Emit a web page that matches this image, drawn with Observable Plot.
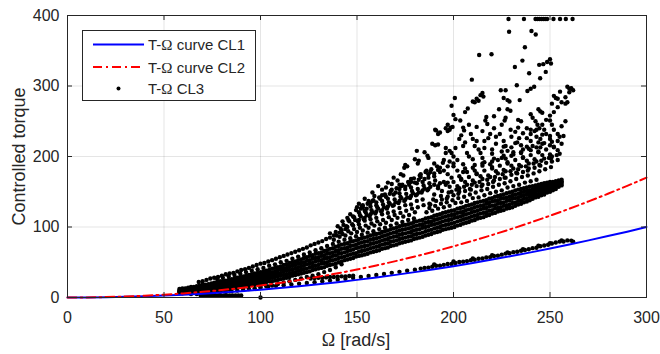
<!DOCTYPE html>
<html><head><meta charset="utf-8">
<script src="https://cdn.jsdelivr.net/npm/d3@7"></script>
<script src="https://cdn.jsdelivr.net/npm/@observablehq/plot@0.6"></script>
<style>
body{margin:0;background:#fff;}
#wrap{position:relative;width:660px;height:354px;font-family:"Liberation Sans",Arial,sans-serif;color:#262626;}
#legend{position:absolute;left:82px;top:30px;}
#xlabel{position:absolute;left:256px;width:200px;top:331px;text-align:center;font-size:18px;line-height:18px;color:#262626;}
.sym{font-family:"Liberation Serif","Times New Roman",serif;}
</style></head>
<body><div id="wrap"></div>
<script>
// ---- axis ticks / labels ----
const xTicks = [0, 50, 100, 150, 200, 250, 300];
const yTicks = [0, 100, 200, 300, 400];
const yLabel = ["Controlled torque"];
const legendNames = ["curve CL1", "curve CL2", "CL3"];

// ---- CL1 curve (blue) ----
const cl1Omega = [0,10,20,30,40,50,60,70,80,90,100,110,120,130,140,150,160,170,180,190,200,210,220,230,240,250,260,270,280,290,300];
const cl1Torque = [0,0.11,0.44,1,1.78,2.78,4,5.44,7.11,9,11.1,13.4,16,18.8,21.8,25,28.4,32.1,36,40.1,44.4,49,53.8,58.8,64,69.4,75.1,81,87.1,93.4,100];
// ---- CL2 curve (red dash-dot) ----
const cl2Omega = cl1Omega;
const cl2Torque = [0,0.13,0.58,1.35,2.47,3.95,5.79,8.0,10.6,13.6,16.9,20.7,24.8,29.4,34.3,39.7,45.4,51.6,58.2,65.1,72.6,80.4,88.6,97.3,106.4,115.9,125.9,136.3,147.1,158.3,170];

// ---- CL3 scatter: dense lower band (two staggered omega grids) ----
const gridA = [58,61,64,67,70,73,76,79,82,85,88,91,94,97,100,103,106,109,112,115,118,121,124,127,130,133,136,139,142,145,148,151,154,157,160,163,166,169,172,175,178,181,184,187,190,193,196,199,202,205,208,211,214,217,220,223,226,229,232,235,238,241,244,247,250,253,256];
const bandA1 = [6,7,7,8,8,9,10,11,12,13,14,15,17,18,20,22,23,25,27,29,32,34,36,39,41,43,46,48,51,54,56,59,61,64,66,69,71,74,77,79,81,84,86,89,92,94,97,99,102,105,107,110,113,116,119,122,124,127,130,133,136,140,143,146,150,154,159];
const bandA2 = [7,8,9,10,11,11,13,14,15,16,18,19,21,22,24,26,28,30,32,34,36,39,41,44,46,49,52,54,57,60,62,65,67,70,72,75,77,80,83,85,87,90,92,95,98,100,103,105,108,111,113,116,119,121,124,127,130,132,135,138,141,145,147,151,154,157,161];
const bandA3 = [9,10,11,12,13,14,15,17,18,20,21,23,24,26,28,30,32,34,37,39,41,44,47,49,52,55,57,60,63,66,68,71,73,76,78,81,83,86,89,91,93,96,99,101,104,106,109,111,114,117,119,122,125,127,130,133,135,138,141,144,146,149,152,154,157,160,163];
const bandA4 = [10,12,13,14,15,17,18,20,21,23,24,26,28,30,32,34,36,39,41,44,46,49,52,55,57,60,63,66,69,71,74,77,79,82,84,87,89,92,95,97,99,102,104,107,110,112,115,117,120,122,125,128,130,133,136,138,141,143,146,149,151,153,156,158,160,163,165];
const bandA5 = [12,13,15,16,18,19,21,23,24,26,28,30,32,34,36,38,41,43,46,49,51,54,57,60,63,66,69,72,75,77,80,83,85,88,90,93,95,98,101,103,105,108,110,113,116,118,121,123,126,128,131,134,136,138,141,144,146,149,152,154,156,158,160,162,164,165,167];
const gridB = [59.5,62.5,65.5,68.5,71.5,74.5,77.5,80.5,83.5,86.5,89.5,92.5,95.5,98.5,101.5,104.5,107.5,110.5,113.5,116.5,119.5,122.5,125.5,128.5,131.5,134.5,137.5,140.5,143.5,146.5,149.5,152.5,155.5,158.5,161.5,164.5,167.5,170.5,173.5,176.5,179.5,182.5,185.5,188.5,191.5,194.5,197.5,200.5,203.5,206.5,209.5,212.5,215.5,218.5,221.5,224.5,227.5,230.5,233.5,236.5,239.5,242.5,245.5,248.5,251.5,254.5];
const bandB1 = [6,7,8,8,9,9,10,11,12,14,15,16,18,19,21,23,24,26,28,31,33,35,37,40,42,45,47,50,53,55,58,60,62,65,67,70,73,75,78,80,83,85,88,90,93,96,98,100,103,106,109,112,114,117,120,123,126,128,132,135,138,142,145,149,152,157];
const bandB2 = [8,9,9,10,11,12,13,14,15,17,18,20,21,23,25,27,29,31,33,35,38,40,43,45,48,50,53,56,58,61,63,66,68,71,73,76,79,81,84,86,89,91,94,96,99,102,104,106,109,112,115,117,120,123,126,128,131,134,137,140,143,146,149,152,155,159];
const bandB3 = [10,11,12,13,14,15,16,17,19,20,22,24,25,27,29,31,33,35,38,40,43,45,48,51,53,56,59,62,64,67,70,72,74,77,79,82,85,87,90,92,95,97,100,103,105,108,110,113,115,118,121,123,126,129,131,134,137,140,142,145,148,150,153,156,159,162];
const bandB4 = [11,12,14,15,16,17,19,20,22,24,25,27,29,31,33,35,37,40,42,45,48,50,53,56,59,62,64,67,70,73,75,78,80,83,85,88,91,93,96,98,101,103,106,108,111,114,116,118,121,124,126,129,131,134,137,140,142,145,147,150,152,155,157,160,162,164];
const bandB5 = [13,14,15,17,18,20,22,23,25,27,29,31,33,35,37,39,42,44,47,50,53,56,59,62,64,67,70,73,76,79,81,84,86,89,91,94,97,99,102,104,107,109,112,114,117,120,122,124,127,130,132,135,137,140,143,145,148,150,153,155,157,159,161,163,164,166];

// ---- CL3 scatter: streaks and clusters read as [omega, torque] ----
const cl3NearCL1 = [[100,14],[104,15.5],[108,16.5],[112,17.5],[116,18.5],[120,19.5],[124,20.6],[128,21.7],[132,23],[136,24],[140,25.3],[144,26.5],[148,27.8],[152,29.2],[156,30.5],[160,32],[164,33.4],[168,35],[172,36.4],[176,38],[180,39.5],[183,41],[185,42],[187,42.4],[189,43.7],[191,45],[193,45],[195,46.3],[197,47.6],[199,47.5],[201,49],[203,50.3],[205,50.7],[207,51.6],[209,53],[211,53.5],[213,55],[215,55.4],[217,56.8],[219,57.3],[221,58.8],[223,59.3],[225,60.8],[227,62.3],[229,62.8],[231,64.3],[233,64.8],[235,66.4],[237,67.4],[239,68.5],[241,70],[243,70.6],[245,72.7],[247,73.8],[249,74.9],[251,76.5],[253,78],[255,79.3],[257,79.4],[259,81],[261,80.7],[190,47],[200,51],[210,55.5],[220,60],[228,64],[236,68.5],[244,73.5],[250,77],[256,81],[262,79]];
const cl3Floor = [[69,3],[70.5,3],[72,3],[73.5,3],[75,3],[76.5,3],[78,3],[79.5,3],[81,3],[82.5,3],[84,3],[85.5,3],[87,3],[88.5,3],[90,3],[100,0],[126,27],[128,27.5],[130,28],[132,28],[134,28.5],[136,29],[138,29],[140,29.5],[142,30],[144,30],[146,30.5],[148,31]];
const cl3BelowBand = [[64,5],[67,5],[70,6],[73,6],[76,7],[79,8],[82,8],[85,9],[88,10],[91,11],[94,12],[97,13],[100,15],[103,16],[106,17],[109,19],[112,21],[115,23],[118,25],[121,27],[124,29],[127,31],[130,33],[133,36],[136,39],[139,43],[142,47]];
const cl3TopStreak = [[68,22],[70,23],[72,25],[74,27],[76,28],[78,29],[80,31],[82,33],[84,34],[86,35],[88,37],[90,39],[92,40],[94,42],[96,44],[98,46],[100,48],[102,49],[104,51],[106,53],[108,55],[110,57],[112,59],[114,61],[116,63],[118,65],[120,67],[122,69],[124,71],[126,74],[128,76],[130,78],[132,80],[134,83],[136,85],[138,88],[141,92],[144,97]];
const cl3AboveBand = [[77.5,27],[80.5,28],[83.5,30],[86.5,32],[89.5,34],[92.5,36],[95.5,38],[98.5,40],[101.5,42],[104.5,45],[107.5,47],[110.5,50],[113.5,52],[116.5,55],[119.5,58],[122.5,61],[125.5,64],[128.5,67],[131.5,70],[134.5,73],[137.5,76],[140.5,79],[143.5,82],[146.5,84],[149.5,87],[152.5,89],[155.5,92],[158.5,94],[161.5,97],[164.5,99],[167.5,102],[170.5,105],[173.5,107],[176.5,110],[179.5,112]];
const cl3MidLeft = [[138,82],[141,86],[144,88],[147,91],[150,93],[153,95],[156,99],[159,102],[162,104],[165,106],[168,110],[171,113],[174,115],[177,117],[180,121],
 [136,91],[139,93],[142,95],[145,100],[148,102],[151,104],[154,109],[157,111],[160,113],[163,118],[166,120],[169,122],[172,127],[175,131],[178,132],[181,137],[184,139],
 [140,101],[143,103],[146,108],[149,110],[152,115],[155,117],[158,121],[161,126],[164,128],[167,133],[170,135],[173,141],[176,142],[179,148],[182,149],[185,155],[188,157],
 [145,113],[148,115],[151,121],[154,123],[157,129],[160,131],[163,137],[166,140],[169,146],[172,148],[175,154],[178,156],[181,162],[184,164],[187,170],[190,172],[193,178],
 [139.5,88],[142.5,90],[145.5,94],[148.5,97],[151.5,99],[154.5,102],[157.5,105],[160.5,108],[163.5,110],[166.5,114],[169.5,117],[172.5,120],[175.5,123],[178.5,126],[181.5,128],[184.5,131],[187.5,133],
 [142.5,108],[145.5,110],[148.5,114],[151.5,117],[154.5,121],[157.5,124],[160.5,128],[163.5,132],[166.5,135],[169.5,139],[172.5,143],[175.5,147],[178.5,151],[181.5,154],[184.5,159],[187.5,162],[190.5,166],
 [141.5,98],[144.5,101],[147.5,104],[150.5,108],[153.5,111],[156.5,115],[159.5,119],[162.5,122],[165.5,126],[168.5,130],[171.5,134],[174.5,137],[177.5,141],[180.5,145],[183.5,149],[186.5,152],
 [149.5,124],[152.5,129],[155.5,133],[158.5,138],[161.5,142],[164.5,146],[167.5,151],[170.5,155],[173.5,160],[176.5,164],[179.5,169],[182.5,173],[185.5,178],[188.5,182],[191.5,186],[194.5,191],
 [146.5,118],[152,126],[157,134],[162,140],[167,147],[172,154],[177,160],[182,167],[187,175],[192,181],[197,186],
 [153,128],[158,137],[163,145],[168,153],[173,158],[178,164],[183,171],[188,178],[193,184],[198,193],
 [151,110],[154,113],[157,118],[160,122],[163,124],[166,129],[169,131],[172,137],[175,139],[178,144],[181,146],[184,152],[187,154],[190,160],[193,162],
 [155,126],[160,135],[165,143],[170,149],[175,157],[180,163],[185,168],[190,176],[195,180],[200,190]];
const cl3MidRight = [[186,121],[189,123],[192,126],[195,128],[198,130],[201,134],[204,135],[207,137],[210,141],[213,142],[216,145],[219,148],[222,150],[225,152],[228,156],[231,158],[234,160],[237,163],[240,165],[243,167],
 [188,132],[191,137],[194,139],[197,143],[200,145],[203,150],[206,151],[209,153],[212,158],[215,160],[218,161],[221,166],[224,168],[227,170],[230,174],[233,176],[236,178],[239,183],[242,184],[245,187],[248,191],[251,193],[254,195],
 [190,146],[194,151],[198,157],[202,158],[206,164],[210,166],[214,172],[218,173],[222,179],[226,181],[230,187],[234,188],[238,194],[242,196],[246,202],[250,203],[254,209],
 [195,164],[199,170],[203,172],[207,178],[211,180],[215,187],[219,189],[223,195],[227,197],[231,203],[235,205],[239,211],[243,213],[247,219],[251,221],[255,228],[257,229],
 [200,186],[205,189],[210,196],[215,198],[220,204],[225,207],[230,213],[235,216],[240,222],[245,225],
 [196.5,140],[202.5,147],[208.5,154],[214.5,158],[220.5,164],[226.5,170],[232.5,177],[238.5,180],[244.5,188],[250.5,197],
 [192,158],[197,163],[204,168],[212,176],[220,185],[228,192],[236,199],[244,207],[252,214],
 [187.5,127],[190.5,130],[193.5,133],[196.5,135],[199.5,138],[202.5,141],[205.5,143],[208.5,146],[211.5,149],[214.5,152],[217.5,154],[220.5,157],[223.5,160],[226.5,162],[229.5,165],[232.5,168],[235.5,171],[238.5,173],[241.5,176],[244.5,179],[247.5,182],[250.5,185],
 [189.5,139],[193.5,144],[197.5,149],[201.5,153],[205.5,157],[209.5,160],[213.5,164],[217.5,167],[221.5,171],[225.5,175],[229.5,179],[233.5,182],[237.5,186],[241.5,190],[245.5,194],[249.5,198],[253.5,202],
 [192,155],[196,160],[200,164],[204,167],[208,171],[212,175],[216,180],[220,183],[224,187],[228,190],[232,195],[236,198],[240,202],[244,206],[248,210],[252,213],[256,218],
 [197,175],[202,180],[206,183],[211,188],[216,192],[221,197],[226,201],[231,206],[236,210],[241,215],[246,218],[250,225],[254,232],
 [199,150],[203,155],[207,160],[211,163],[215,168],[219,171],[223,176],[227,179],[231,183],[235,186],[239,190],[243,193],[247,197],[251,200],[255,204],
 [205,178],[210,184],[215,190],[220,193],[225,198],[230,201],[235,206],[240,209],[245,213],[250,216],[254,222],
 [202,195],[208,200],[214,205],[220,210],[226,214],[232,219],[238,214],[244,220],[250,229],[204,230],[210,225],[216,212],[222,218],[228,208],[234,226],[240,238],[246,231],
 [196,205],[201,212],[206,220],[211,215],[216,222],[222,228],[227,215],[233,220],[238,240],[243,228],[208,245],[219,232],[225,245],[235,250],[247,238],
 [205,215],[212,222],[218,226],[224,232],[230,228],[236,233],[238,226],[203,225],[209,232],[215,236],[221,240],[186,180],[183,175],[178,168],[172,160],[190,190],[195,195],[200,200],[207,205],[213,210],[226,222],[232,235],[248,232],[252,238],[256,243],[258,250],
 [240,232],[243,238],[246,245],[248,252],[250,258],[252,263],[254,270],[256,277],[258,284],[260,291],[261,296]];
const cl3Sparse = [[228.5,395],[236.5,395],[242.5,395],[243.5,395],[244.5,395],[245.5,395],[246.5,395],[247.5,395],[248.5,395],[251.8,395],[255.2,395],[258.2,395],[261.7,395],
 [228.8,377],[240.4,378],[242.6,373],[237,355],[213.3,344],[219.7,345],[250,338],[248.5,334],[250.5,332],[235.7,336],[244.4,330],[246.5,331],[231.8,327],[247.8,320],[239.2,318],[244.9,311],[209.5,309],[232.8,301],[241.8,299],[240,296],
 [259,299],[261,297],[262,294],[260,296],[224.5,294],[227,294],[238.3,293],[255.2,292],[215,290],[214,287],[215.5,285],[200.7,283],[226,283],[228,280],[229,278],[234.3,280],[252,286],[253,283],[254,282],[212,282],[213,279],[211,277],[210,278],[199,272],[207.4,268],[259,277],[258,275],[223.6,267],[251,275],[228,267],[229.5,265],[244,267],[245,264],[246,262],[206,263],[203.5,251],[217,256],[216.5,251],[217.5,246],[221,257],[227,255],[226.5,251],[233.5,252],
 [240,260],[241,255],[242.5,250],[243.5,245],[244.5,240],[242,236],[250,251],[251,245],[197,245],[198.5,241],[198,238],[205,241],[205.5,237],[212,242],[229.6,238],[233.5,241],[190.5,238],
 [200,259],[201,253],[199.5,242],[196,240],[197,236],[193,234],[191,237],[192,232],[189,218],[190.5,216],[192,217],[196,212],[198,208],[199,205],[181,208],[185,206],[186.5,201],[187,198],[180,196],[181.5,190],[182,194],[175,188],[176,186],[174.5,184],[172.7,175],[174,173],[169,170],[171,166],[166,163],[168,161],[161,158],[163,153],[165,156],[158,149],[159,144],[154,140],[156,137],[151,133],[153,131],[150,128]];

// ---- build tables for the library ----
const cl3 = [];
function addGrid(grid, ts) { for (let i = 0; i < Math.min(grid.length, ts.length); i++) cl3.push({omega: grid[i], torque: ts[i]}); }
function addPairs(ps) { for (const [o, t] of ps) cl3.push({omega: o, torque: t}); }
[bandA1, bandA2, bandA3, bandA4, bandA5].forEach(t => addGrid(gridA, t));
[bandB1, bandB2, bandB3, bandB4, bandB5].forEach(t => addGrid(gridB, t));
[cl3NearCL1, cl3Floor, cl3BelowBand, cl3TopStreak, cl3AboveBand, cl3MidLeft, cl3MidRight, cl3Sparse].forEach(addPairs);
const cl1 = cl1Omega.map((o, i) => ({omega: o, torque: cl1Torque[i]}));
const cl2 = cl2Omega.map((o, i) => ({omega: o, torque: cl2Torque[i]}));

const W = 660, H = 354, mL = 67, mR = 14, mT = 15, mB = 57;
const pw = W - mL - mR, ph = H - mT - mB;
const axisColor = "#262626";
const dashCL2 = "9,4,2,4";

const chart = Plot.plot({
  width: W, height: H,
  marginLeft: mL, marginRight: mR, marginTop: mT, marginBottom: mB,
  x: {domain: [0, 300]},
  y: {domain: [0, 400]},
  style: {fontFamily: "'Liberation Sans', Arial, sans-serif", fontSize: "16px", color: axisColor, background: "white"},
  marks: [
    Plot.gridX(xTicks, {stroke: "#000", strokeOpacity: 0.1}),
    Plot.gridY(yTicks, {stroke: "#000", strokeOpacity: 0.1}),
    Plot.dot(cl3, {x: "omega", y: "torque", r: 2.2, fill: "#000", stroke: null}),
    Plot.line(cl1, {x: "omega", y: "torque", stroke: "#0000ff", strokeWidth: 2}),
    Plot.line(cl2, {x: "omega", y: "torque", stroke: "#ff0000", strokeWidth: 2, strokeDasharray: dashCL2}),
    Plot.tickX(xTicks, {x: d => d, stroke: axisColor, insetTop: ph - 5}),
    Plot.tickX(xTicks, {x: d => d, stroke: axisColor, insetBottom: ph - 5}),
    Plot.tickY(yTicks, {y: d => d, stroke: axisColor, insetRight: pw - 5}),
    Plot.tickY(yTicks, {y: d => d, stroke: axisColor, insetLeft: pw - 5}),
    Plot.frame({stroke: axisColor}),
    Plot.axisX(xTicks, {tickSize: 0, tickPadding: 14, label: null, fontSize: 16, fill: axisColor}),
    Plot.axisY(yTicks, {tickSize: 0, tickPadding: 8, label: null, fontSize: 16, fill: axisColor}),
    Plot.text(yLabel, {text: d => d, frameAnchor: "left", textAnchor: "middle", lineAnchor: "middle", dx: -48, rotate: -90, fontSize: 18, fill: axisColor})
  ]
});
const wrap = document.getElementById("wrap");
wrap.appendChild(chart);

// ---- legend ----
const ns = "http://www.w3.org/2000/svg";
const lg = document.createElementNS(ns, "svg");
lg.setAttribute("id", "legend");
lg.setAttribute("width", 175); lg.setAttribute("height", 72);
const el = (tag, attrs) => { const e = document.createElementNS(ns, tag); for (const k in attrs) e.setAttribute(k, attrs[k]); lg.appendChild(e); return e; };
el("rect", {x: 0.5, y: 0.5, width: 173, height: 70, fill: "#fff", stroke: axisColor, "stroke-width": 1});
const rows = [14.5, 37, 58.5];
el("line", {x1: 11, x2: 62, y1: rows[0], y2: rows[0], stroke: "#0000ff", "stroke-width": 2});
el("line", {x1: 11, x2: 62, y1: rows[1], y2: rows[1], stroke: "#ff0000", "stroke-width": 2, "stroke-dasharray": dashCL2});
el("circle", {cx: 36.5, cy: rows[2], r: 2, fill: "#000"});
legendNames.forEach((name, i) => {
  const t = el("text", {x: 66, y: rows[i] + 5.5, "font-size": 15, fill: axisColor, "font-family": "'Liberation Sans', Arial, sans-serif"});
  t.appendChild(document.createTextNode("T-"));
  const s = document.createElementNS(ns, "tspan");
  s.setAttribute("font-family", "'Liberation Serif', serif");
  s.textContent = "Ω";
  t.appendChild(s);
  t.appendChild(document.createTextNode(" " + name));
});
wrap.appendChild(lg);

// ---- x label ----
const xl = document.createElement("div");
xl.id = "xlabel";
xl.innerHTML = '<span class="sym">Ω</span> [rad/s]';
wrap.appendChild(xl);
</script>
</body></html>
